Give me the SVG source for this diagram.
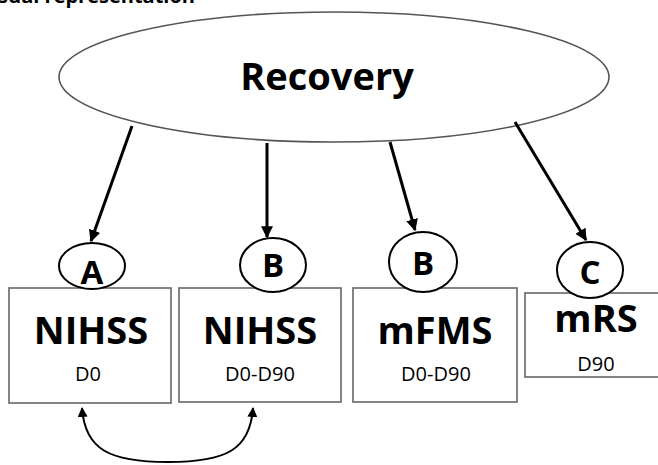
<svg xmlns="http://www.w3.org/2000/svg" width="658" height="465" viewBox="0 0 658 465">
<style>
text{font-family:"Open Sans","Liberation Sans",sans-serif;fill:#000;text-anchor:middle}
.big{font-weight:bold;font-size:38px}
.sub{font-size:20px}
.lab{font-weight:bold;font-size:33px}
.box{fill:#fff;stroke:#666;stroke-width:1.6}
.circ{fill:#fff;stroke:#000;stroke-width:2}
.arr{fill:none;stroke:#000;stroke-width:3;marker-end:url(#ah)}
</style>
<defs>
<marker id="ah" viewBox="0 0 10 10" refX="9" refY="5" markerWidth="4" markerHeight="4" orient="auto-start-reverse" markerUnits="strokeWidth">
<path d="M0,0 L10,5 L0,10 z" fill="#000"/>
</marker>
<marker id="ah2" viewBox="0 0 10 10" refX="9" refY="5" markerWidth="5" markerHeight="5" orient="auto-start-reverse" markerUnits="strokeWidth">
<path d="M0,0 L10,5 L0,10 z" fill="#000"/>
</marker>
</defs>
<rect width="658" height="465" fill="#fff"/>
<text x="195" y="3" style="font-weight:bold;font-size:20px;text-anchor:end">Visual representation</text>
<g id="recovery">
<ellipse cx="334" cy="77" rx="275" ry="65" fill="#fff" stroke="#555" stroke-width="1.6"/>
<text x="327" y="90" style="font-weight:bold;font-size:38px">Recovery</text>
</g>
<g id="connectors">
<line class="arr" x1="132" y1="126" x2="91" y2="241"/>
<line class="arr" x1="267" y1="143" x2="267" y2="237"/>
<line class="arr" x1="390" y1="142" x2="415" y2="230"/>
<line class="arr" x1="515" y1="122" x2="586" y2="240"/>
<path d="M82 408 C85 450 110 462 168 462 C226 462 250 450 253 408" fill="none" stroke="#000" stroke-width="2" marker-start="url(#ah2)" marker-end="url(#ah2)"/>
</g>
<g id="nihss-d0">
<rect class="box" x="9" y="288" width="162" height="115"/>
<text class="big" x="91" y="344">NIHSS</text>
<text class="sub" x="88" y="381">D0</text>
</g>
<g id="nihss-d0-d90">
<rect class="box" x="179" y="288" width="162" height="114"/>
<text class="big" x="260" y="344">NIHSS</text>
<text class="sub" x="260" y="381">D0-D90</text>
</g>
<g id="mfms">
<rect class="box" x="353" y="288" width="164" height="114"/>
<text class="big" x="435" y="344">mFMS</text>
<text class="sub" x="436" y="381">D0-D90</text>
</g>
<g id="mrs">
<rect class="box" x="525" y="293" width="140" height="84"/>
<text class="big" x="596" y="332">mRS</text>
<text class="sub" x="596" y="371">D90</text>
</g>
<g id="label-a">
<ellipse class="circ" cx="92" cy="266" rx="33" ry="23"/>
<text class="lab" x="92" y="284">A</text>
</g>
<g id="label-b1">
<ellipse class="circ" cx="273" cy="265" rx="33" ry="27"/>
<text class="lab" x="273" y="277">B</text>
</g>
<g id="label-b2">
<ellipse class="circ" cx="423" cy="262" rx="34" ry="30"/>
<text class="lab" x="423" y="275">B</text>
</g>
<g id="label-c">
<ellipse class="circ" cx="590" cy="270" rx="33" ry="28"/>
<text class="lab" x="590" y="284">C</text>
</g>
</svg>
